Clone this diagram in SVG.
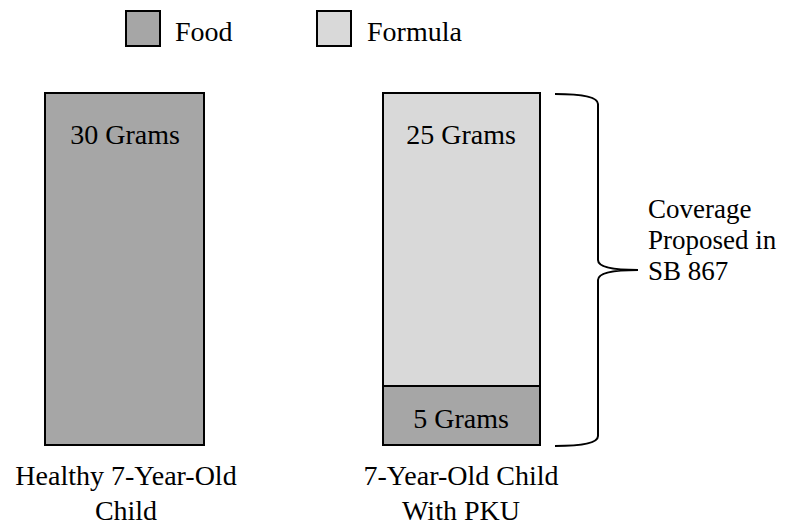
<svg xmlns="http://www.w3.org/2000/svg" width="792" height="525" viewBox="0 0 792 525">
<style>
text{font-family:"Liberation Serif","Times New Roman",serif;font-size:28px;fill:#000}
.note{font-size:27px}
.food{fill:#A6A6A6;stroke:#000;stroke-width:2}
.formula{fill:#D9D9D9;stroke:#000;stroke-width:2}
.mid{text-anchor:middle}
</style>
<rect width="792" height="525" fill="#fff"/>
<g id="legend-food">
<rect class="food" x="126" y="11" width="34" height="35"/>
<text x="175" y="41">Food</text>
</g>
<g id="legend-formula">
<rect class="formula" x="317" y="11" width="34" height="35"/>
<text x="367" y="41">Formula</text>
</g>
<g id="bar-healthy">
<rect class="food" x="45" y="93" width="159" height="352"/>
<text class="mid" x="125" y="144">30 Grams</text>
<text class="mid" x="126" y="485">Healthy 7-Year-Old</text>
<text class="mid" x="126" y="520">Child</text>
</g>
<g id="bar-pku">
<rect class="formula" x="383" y="93" width="157" height="293"/>
<rect class="food" x="383" y="386" width="157" height="59"/>
<text class="mid" x="461" y="144">25 Grams</text>
<text class="mid" x="461" y="428">5 Grams</text>
<text class="mid" x="461" y="485">7-Year-Old Child</text>
<text class="mid" x="461" y="520">With PKU</text>
</g>
<g id="connectors">
<path d="M555,94 Q598,94 598,104 L598,260 Q598,270 638,270 Q598,270 598,280 L598,436 Q598,446 555,446" fill="none" stroke="#000" stroke-width="2"/>
</g>
<g id="coverage-label">
<text class="note" x="648" y="218">Coverage</text>
<text class="note" x="648" y="249">Proposed in</text>
<text class="note" x="648" y="280">SB 867</text>
</g>
</svg>
